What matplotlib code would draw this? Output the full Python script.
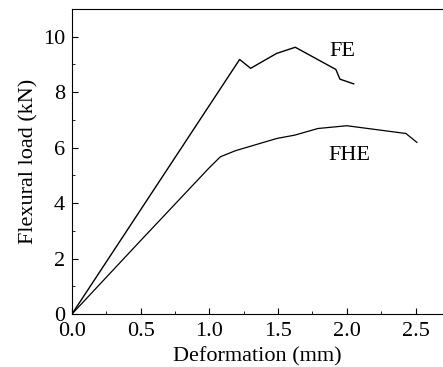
import matplotlib
matplotlib.use("Agg")
import matplotlib.pyplot as plt
from matplotlib.ticker import MultipleLocator

# 数据
fe_x = [0.0, 1.22, 1.30, 1.49, 1.625, 1.92, 1.95, 2.05]
fe_y = [0.0, 9.18, 8.86, 9.40, 9.62, 8.82, 8.47, 8.30]
fhe_x = [0.0, 0.5, 1.0, 1.08, 1.19, 1.49, 1.62, 1.79, 2.0, 2.43, 2.51]
fhe_y = [0.0, 2.65, 5.28, 5.67, 5.89, 6.33, 6.45, 6.69, 6.79, 6.51, 6.19]
labels = ["FE", "FHE"]

plt.rcParams['font.family'] = ['Liberation Serif', 'DejaVu Serif']

fig = plt.figure(figsize=(4.43, 3.67), dpi=100)
ax = fig.add_axes([0.1625, 0.1444, 0.8375, 0.8311])

ax.plot(fe_x, fe_y, color='black', lw=1.0)
ax.plot(fhe_x, fhe_y, color='black', lw=0.9)
ax.text(1.97, 9.46, labels[0], fontsize=16, ha='center', va='center')
ax.text(2.02, 5.7, labels[1], fontsize=16, ha='center', va='center')

ax.set_xlim(0, 2.7)
ax.set_ylim(0, 11)
ax.spines['right'].set_visible(False)  # 原图右边框被裁掉
ax.xaxis.set_major_locator(MultipleLocator(0.5))
ax.xaxis.set_minor_locator(MultipleLocator(0.25))
ax.yaxis.set_major_locator(MultipleLocator(2))
ax.yaxis.set_minor_locator(MultipleLocator(1))
ax.tick_params(which='both', direction='in', labelsize=16)
ax.tick_params(axis='x', pad=6)
ax.tick_params(axis='y', pad=5)
ax.tick_params(which='major', length=4)
ax.tick_params(which='minor', length=2)
ax.xaxis.set_major_formatter(matplotlib.ticker.FormatStrFormatter('%.1f'))

ax.set_xlabel('Deformation (mm)', fontsize=16, labelpad=4)
ax.set_ylabel('Flexural load (kN)', fontsize=16, labelpad=3)

fig.savefig('out.png', dpi=100)
